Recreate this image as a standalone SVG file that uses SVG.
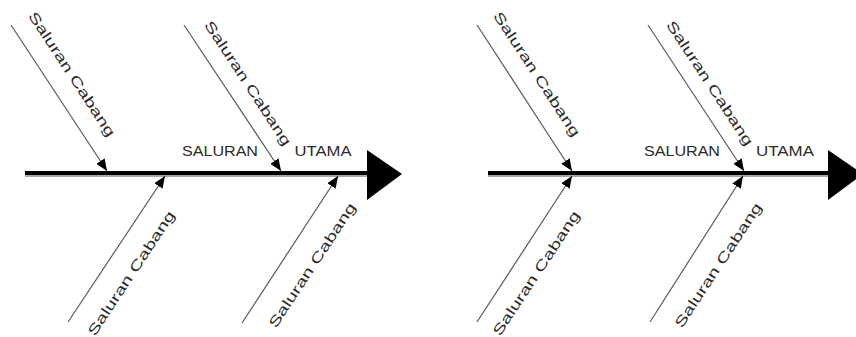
<svg xmlns="http://www.w3.org/2000/svg" width="856" height="337" viewBox="0 0 856 337">
  <style>
    .spine { stroke: #000; stroke-width: 4; fill: none; }
    .spine-shade { stroke: #8a8a8a; stroke-width: 1.5; fill: none; }
    .head { fill: #000; }
    .branch { stroke: #5a5a5a; stroke-width: 1.2; fill: none; marker-end: url(#tip); }
    .lbl { font-family: "Liberation Sans", Arial, sans-serif; font-size: 14px; fill: #2a2a2a; text-anchor: middle; dominant-baseline: central; }
  </style>
  <defs>
    <marker id="tip" viewBox="0 0 12 10" refX="12" refY="5" markerWidth="12" markerHeight="10" markerUnits="userSpaceOnUse" orient="auto">
      <path d="M0,0 L12,5 L0,10 Z" fill="#000"/>
    </marker>
  </defs>

  <!-- Left fishbone: main channel -->
  <g id="spine-left">
    <line class="spine" x1="25" y1="173" x2="370" y2="173"/>
    <line class="spine-shade" x1="25" y1="176" x2="368" y2="176"/>
    <polygon class="head" points="367,150 402,174 367,200"/>
    <text class="lbl" x="220" y="151" textLength="76" lengthAdjust="spacingAndGlyphs">SALURAN</text>
    <text class="lbl" x="323" y="151" textLength="57" lengthAdjust="spacingAndGlyphs">UTAMA</text>
  </g>

  <!-- Right fishbone: main channel -->
  <g id="spine-right">
    <line class="spine" x1="488" y1="173" x2="832" y2="173"/>
    <line class="spine-shade" x1="488" y1="176" x2="830" y2="176"/>
    <polygon class="head" points="828,150 863,174 828,200"/>
    <text class="lbl" x="682" y="151" textLength="76" lengthAdjust="spacingAndGlyphs">SALURAN</text>
    <text class="lbl" x="785" y="151" textLength="58" lengthAdjust="spacingAndGlyphs">UTAMA</text>
  </g>

  <!-- Branch labels -->
  <g id="branch-l1"><text class="lbl" transform="translate(72,74) rotate(56.8)" textLength="146" lengthAdjust="spacingAndGlyphs">Saluran Cabang</text></g>
  <g id="branch-l2"><text class="lbl" transform="translate(248,83) rotate(56.8)" textLength="146" lengthAdjust="spacingAndGlyphs">Saluran Cabang</text></g>
  <g id="branch-l3"><text class="lbl" transform="translate(131,273) rotate(-56.5)" textLength="146" lengthAdjust="spacingAndGlyphs">Saluran Cabang</text></g>
  <g id="branch-l4"><text class="lbl" transform="translate(312,265) rotate(-56.5)" textLength="146" lengthAdjust="spacingAndGlyphs">Saluran Cabang</text></g>

  <g id="branch-r1"><text class="lbl" transform="translate(537,74) rotate(56.8)" textLength="146" lengthAdjust="spacingAndGlyphs">Saluran Cabang</text></g>
  <g id="branch-r2"><text class="lbl" transform="translate(710,83) rotate(56.8)" textLength="146" lengthAdjust="spacingAndGlyphs">Saluran Cabang</text></g>
  <g id="branch-r3"><text class="lbl" transform="translate(536,273) rotate(-56.5)" textLength="146" lengthAdjust="spacingAndGlyphs">Saluran Cabang</text></g>
  <g id="branch-r4"><text class="lbl" transform="translate(718,265) rotate(-56.5)" textLength="146" lengthAdjust="spacingAndGlyphs">Saluran Cabang</text></g>

  <!-- Branch connectors feeding the main channel -->
  <g id="connectors">
    <line class="branch" x1="11" y1="25" x2="107" y2="171"/>
    <line class="branch" x1="184" y1="25" x2="281" y2="171"/>
    <line class="branch" x1="68" y1="322" x2="165" y2="176"/>
    <line class="branch" x1="242" y1="323" x2="338" y2="176"/>

    <line class="branch" x1="477" y1="25" x2="572" y2="171"/>
    <line class="branch" x1="648" y1="25" x2="744" y2="171"/>
    <line class="branch" x1="477" y1="322" x2="572" y2="176"/>
    <line class="branch" x1="650" y1="322" x2="743" y2="176"/>
  </g>
</svg>
